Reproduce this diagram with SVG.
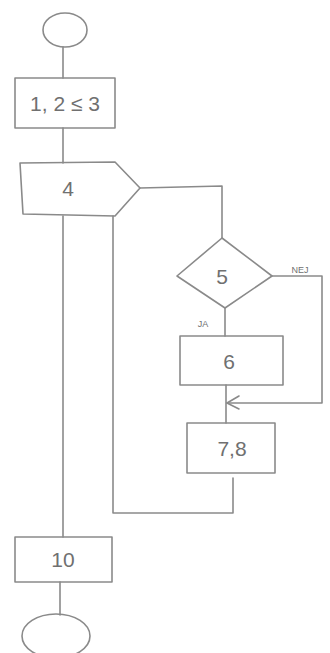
<svg xmlns="http://www.w3.org/2000/svg" width="330" height="653" viewBox="0 0 330 653">
<style>
.s{fill:none;stroke:#8a8a8a;stroke-width:1.6;stroke-linejoin:round;stroke-linecap:round}
.t{font-family:"Liberation Sans",Arial,sans-serif;fill:#707070;text-anchor:middle}
.big{font-size:21px}
.sm{font-size:9px}
</style>
<rect width="330" height="653" fill="#ffffff"/>
<g id="connectors">
<path class="s" d="M63 47 L63 78"/>
<path class="s" d="M63 128 L63 163"/>
<path class="s" d="M140 188 L222 186 L222 238"/>
<path class="s" d="M225 308 L225 336"/>
<path class="s" d="M272 276 L322 276 L322 403 L227 403"/>
<path class="s" d="M239 396 L227 403 L239 409"/>
<path class="s" d="M226 385 L226 423"/>
<path class="s" d="M233 478 L233 513 L113 513 L113 216"/>
<path class="s" d="M63 216 L63 537"/>
<path class="s" d="M60 582 L60 615"/>
</g>
<g id="start">
<ellipse class="s" cx="65" cy="30" rx="22" ry="17"/>
</g>
<g id="n123">
<rect class="s" x="15" y="78" width="100" height="50"/>
<text class="t big" x="65" y="111">1, 2 ≤ 3</text>
</g>
<g id="n4">
<path class="s" d="M20 163 L115 162 L140 188 L115 216 L23 214 Z"/>
<text class="t big" x="68" y="196">4</text>
</g>
<g id="n5">
<path class="s" d="M222 238 L272 276 L225 308 L177 276 Z"/>
<text class="t big" x="222" y="284">5</text>
<text class="t sm" x="300" y="273">NEJ</text>
<text class="t sm" x="203" y="327">JA</text>
</g>
<g id="n6">
<rect class="s" x="180" y="336" width="103" height="49"/>
<text class="t big" x="229" y="369">6</text>
</g>
<g id="n78">
<rect class="s" x="187" y="423" width="88" height="50"/>
<text class="t big" x="232" y="456">7,8</text>
</g>
<g id="n10">
<rect class="s" x="15" y="537" width="97" height="45"/>
<text class="t big" x="63" y="567">10</text>
</g>
<g id="end">
<ellipse class="s" cx="56" cy="636" rx="34" ry="22"/>
</g>
</svg>
